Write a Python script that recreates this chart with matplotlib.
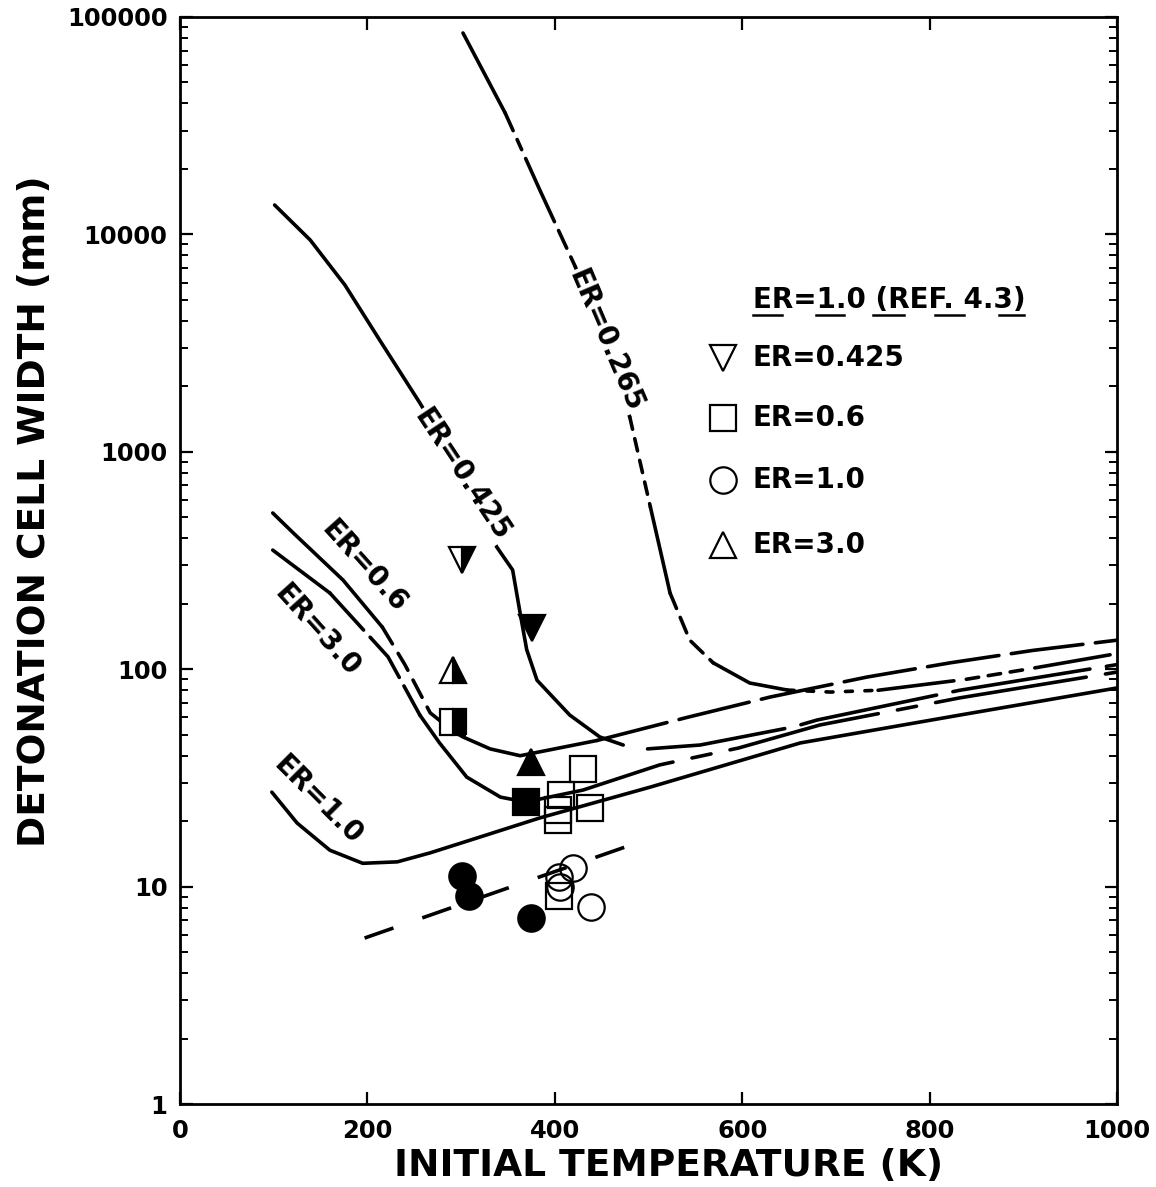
import matplotlib.pyplot as plt
import matplotlib.ticker as ticker
import numpy as np

plt.rcParams['font.family'] = ['DejaVu Sans']
plt.rcParams['font.weight'] = 'bold'
plt.rcParams['lines.scale_dashes'] = False

# calculated curves: initial temperature (K) -> detonation cell width (mm)
t_265 = [302, 347, 384, 422, 451, 480, 502, 523, 544, 569, 608, 648, 694, 745, 840, 910, 1000]
w_265 = [84400, 36200, 16000, 7080, 3170, 1445, 557, 224, 136, 107, 86.4, 80.2, 78.5, 80, 90, 101, 118]

t_425 = [101, 139, 176, 213, 256, 299, 338, 355, 363, 370, 381, 416, 448, 473, 499, 555, 654, 680, 832, 1000]
w_425 = [13650, 9420, 5850, 3270, 1677, 825, 365, 286, 181, 123, 89, 61.5, 48.8, 44.8, 43, 44.8, 54.2, 58.4, 80, 105]

t_06 = [99, 121, 174, 216, 240, 267, 291, 302, 331, 363, 445, 541, 630, 733, 822, 910, 1000]
w_06 = [523, 423, 257, 156, 105, 63, 52, 48.8, 43, 40, 47, 60, 74.5, 92, 107, 122, 136]

t_30 = [99, 160, 222, 256, 277, 306, 342, 369, 430, 512, 596, 683, 832, 1000]
w_30 = [353, 224, 114, 61.5, 45.8, 31.9, 25.8, 24.5, 27.8, 36.3, 43.4, 55.4, 73.8, 97]

t_10 = [98, 125, 160, 195, 232, 267, 320, 384, 502, 662, 832, 1000]
w_10 = [27.2, 19.6, 14.7, 12.8, 13, 14.3, 16.9, 20.7, 28.7, 45.8, 61.5, 82]

# ER=1.0 fit (ref. 4.3)
t_ref = [197, 502]
w_ref = [5.8, 16.7]

# measured points
t_dn_half, w_dn_half = [301], [318]
t_dn_full, w_dn_full = [376], [155]
t_up_half, w_up_half = [291], [99]
t_up_full, w_up_full = [375], [37.4]
t_sq_half, w_sq_half = [291], [57]
t_sq_full, w_sq_full = [369], [24.5]
t_ci_full = [301, 308, 375]
w_ci_full = [11.2, 9.1, 7.2]
t_sq_open = [430, 407, 403, 403, 438, 404]
w_sq_open = [34.8, 26.4, 22.5, 20.2, 23, 9.06]
t_ci_open = [404, 419, 406, 439]
w_ci_open = [11.1, 12.2, 9.96, 8.06]

# line style pieces: (first index, last index, dash pattern or None for solid)
seg_265 = [(0, 1, None), (1, 3, (14, 7, 8, 7, 50, 7)), (3, 5, None), (5, 6, (9, 7)),
           (6, 7, None), (7, 9, (12, 7)), (9, 11, None), (11, 13, (5, 9)),
           (13, 16, (55, 9, 9, 7, 9, 7, 9, 9))]
seg_425 = [(0, 13, None), (14, 19, (100, 12))]
seg_06 = [(0, 3, None), (3, 6, (14, 8)), (6, 10, None), (10, 16, (52, 9))]
seg_30 = [(0, 1, None), (1, 3, (36, 7)), (3, 7, None), (7, 13, (110, 14, 14, 14))]
seg_10 = [(0, 11, None)]

fig = plt.figure(figsize=(11.56, 11.87), dpi=100)
ax = fig.add_axes([0.1557, 0.0699, 0.8106, 0.9158])
ax.set_yscale('log')
ax.set_xlim(0, 1000)
ax.set_ylim(1, 100000)

def draw(T, W, segs):
    T = np.array(T)
    W = np.array(W)
    for i0, i1, d in segs:
        ls = '-' if d is None else (0, d)
        ax.plot(T[i0:i1 + 1], W[i0:i1 + 1], color='k', lw=2.6, ls=ls,
                solid_capstyle='round', solid_joinstyle='round', dash_capstyle='round', zorder=2)

draw(t_265, w_265, seg_265)
draw(t_425, w_425, seg_425)
draw(t_06, w_06, seg_06)
draw(t_30, w_30, seg_30)
draw(t_10, w_10, seg_10)
ax.plot(t_ref, w_ref, color='k', lw=2.6, ls=(0, (22, 22)), zorder=2)

ms = 19
mew = 1.6
half = dict(fillstyle='right', markerfacecolor='k', markerfacecoloralt='white', markeredgecolor='k',
            ls='none', ms=ms, mew=mew, zorder=4)
full = dict(color='k', ls='none', ms=ms, mew=mew, zorder=4)
empty = dict(markerfacecolor='none', markeredgecolor='k', ls='none', ms=ms, mew=mew, zorder=4)

ax.plot(t_dn_half, w_dn_half, marker='v', **half)
ax.plot(t_dn_full, w_dn_full, marker='v', **full)
ax.plot(t_up_half, w_up_half, marker='^', **half)
ax.plot(t_up_full, w_up_full, marker='^', **full)
ax.plot(t_sq_half, w_sq_half, marker='s', **half)
ax.plot(t_sq_full, w_sq_full, marker='s', **full)
ax.plot(t_ci_full, w_ci_full, marker='o', **full)
ax.plot(t_sq_open, w_sq_open, marker='s', **empty)
ax.plot(t_ci_open, w_ci_open, marker='o', **empty)

# curve labels
lab_txt = ['ER=0.265', 'ER=0.425', 'ER=0.6', 'ER=3.0', 'ER=1.0']
lab_t = [454, 301, 197, 147, 147]
lab_w = [3236, 782, 295, 151, 25]
lab_rot = [-67, -56.5, -48, -48, -45]
lab_box = [True, True, False, False, False]
for s, x, y, r, b in zip(lab_txt, lab_t, lab_w, lab_rot, lab_box):
    ax.text(x, y, s, rotation=r, rotation_mode='anchor', ha='center', va='center',
            fontsize=20, fontweight='bold', zorder=3,
            bbox=dict(facecolor='white', edgecolor='none', pad=1) if b else None)

# legend
leg_marker = ['v', 's', 'o', '^']
leg_text = ['ER=0.425', 'ER=0.6', 'ER=1.0', 'ER=3.0']
leg_y = [0.6863, 0.6311, 0.574, 0.5143]
for m, s, y in zip(leg_marker, leg_text, leg_y):
    ax.plot([0.5795], [y], marker=m, transform=ax.transAxes, markerfacecolor='none',
            markeredgecolor='k', ms=ms, mew=mew, ls='none', clip_on=False)
    ax.text(0.6115, y, s, transform=ax.transAxes, ha='left', va='center', fontsize=20, fontweight='bold')
title = ax.text(0.6115, 0.7397, 'ER=1.0 (REF. 4.3)', transform=ax.transAxes, ha='left', va='center',
                fontsize=20, fontweight='bold')

# axes styling
for sp in ax.spines.values():
    sp.set_linewidth(2)
ax.xaxis.set_major_locator(ticker.MultipleLocator(200))
ax.yaxis.set_major_locator(ticker.LogLocator(base=10, numticks=10))
ax.yaxis.set_minor_locator(ticker.LogLocator(base=10, subs=np.arange(2, 10), numticks=20))
ax.yaxis.set_major_formatter(ticker.FuncFormatter(lambda v, p: '%d' % round(v)))
ax.yaxis.set_minor_formatter(ticker.NullFormatter())
ax.tick_params(axis='both', which='major', direction='in', length=9, width=1.6,
               labelsize=17.5, top=True, right=True)
ax.tick_params(axis='y', which='minor', direction='in', length=6, width=1.4, right=True)
ax.tick_params(axis='y', which='major', pad=9)
ax.tick_params(axis='x', which='major', pad=11)
for lab in ax.get_xticklabels() + ax.get_yticklabels():
    lab.set_fontweight('bold')

ax.text(0.521, -0.057, 'INITIAL TEMPERATURE (K)', transform=ax.transAxes, ha='center', va='center',
        fontsize=27, fontweight='bold')
ax.text(-0.155, 0.545, 'DETONATION CELL WIDTH (mm)', transform=ax.transAxes, rotation=90,
        ha='center', va='center', fontsize=27, fontweight='bold')

# partial underline of legend title, as in the original
fig.canvas.draw()
bb = title.get_window_extent(fig.canvas.get_renderer())
inv = ax.transAxes.inverted()
ul_parts = [(0, 0.107), (0.231, 0.333), (0.441, 0.554), (0.667, 0.774), (0.903, 0.995)]
for a, b in ul_parts:
    p = inv.transform([[bb.x0 + a * bb.width, bb.y0 - 1], [bb.x0 + b * bb.width, bb.y0 - 1]])
    ax.plot(p[:, 0], p[:, 1], color='k', lw=1.8, transform=ax.transAxes, clip_on=False)

fig.savefig('out.png', dpi=100)
